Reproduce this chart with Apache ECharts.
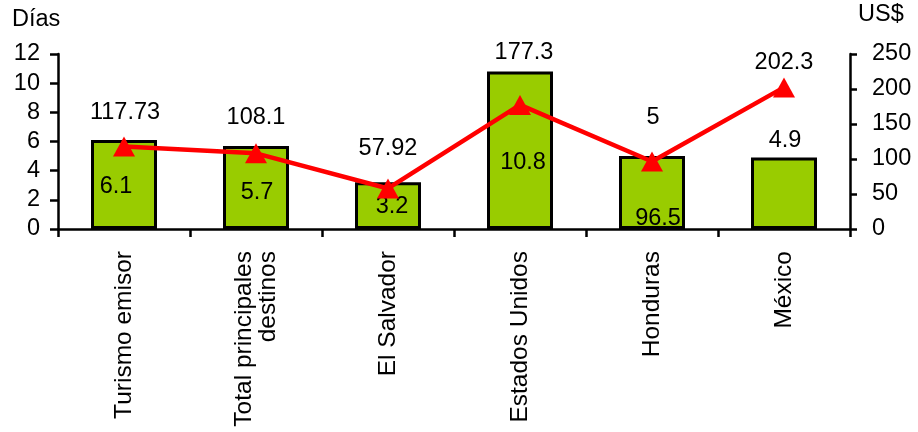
<!DOCTYPE html>
<html><head><meta charset="utf-8">
<script src="https://cdn.jsdelivr.net/npm/echarts@6/dist/echarts.min.js"></script>
<style>html,body{margin:0;padding:0;background:#fff}#c{width:918px;height:432px}</style>
</head><body><div id="c"></div>
<script>
const categories = ['Turismo emisor', 'Total principales\ndestinos', 'El Salvador', 'Estados Unidos', 'Honduras', 'México'];
const diasValues = [6.1, 5.7, 3.2, 10.8, 5, 4.9];
const gastoValues = [117.73, 108.1, 57.92, 177.3, 96.5, 202.3];
// texts shown in the reference (as printed there)
const barLabelTexts = ['6.1', '5.7', '3.2', '10.8', '96.5', '4.9'];
const lineLabelTexts = ['117.73', '108.1', '57.92', '177.3', '5', '202.3'];
const leftTicks = [0, 2, 4, 6, 8, 10, 12];
const rightTicks = [0, 50, 100, 150, 200, 250];

// label offsets (style only)
const barLabelOffsets = [[-8, 2], [1, 5], [4, 1], [3, 12], [6, 26], [1, -53]];
const lineLabelOffsets = [[1, -34], [0, -36], [0, -40], [4, -52], [1, -44], [0, -25]];

const FONT = 'Liberation Sans, Arial, sans-serif';
const FS = 23.5;

const chart = echarts.init(document.getElementById('c'));
chart.setOption({
  animation: false,
  grid: { left: 58, right: 68, top: 54, bottom: 203, containLabel: false, outerBoundsMode: 'none' },
  xAxis: {
    type: 'category', data: categories, boundaryGap: true,
    axisLine: { lineStyle: { color: '#000', width: 2.5 } },
    axisTick: { show: true, length: 8, lineStyle: { color: '#000', width: 2.5 }, alignWithLabel: false },
    axisLabel: { rotate: 90, fontFamily: FONT, fontSize: 24.5, color: '#000', margin: 22, align: 'right', verticalAlign: 'middle', lineHeight: 24 },
    splitLine: { show: false }
  },
  yAxis: [{
    type: 'value', min: leftTicks[0], max: leftTicks[leftTicks.length - 1], interval: 2,
    name: 'Días', nameLocation: 'end', nameGap: 22,
    nameTextStyle: { fontFamily: FONT, fontSize: FS, color: '#000', align: 'left', padding: [0, 0, 0, -46] },
    axisLine: { show: true, lineStyle: { color: '#000', width: 2.5 } },
    axisTick: { show: true, length: 8, lineStyle: { color: '#000', width: 2.5 } },
    axisLabel: { fontFamily: FONT, fontSize: FS, color: '#000', margin: 18 },
    splitLine: { show: false }
  }, {
    type: 'value', min: rightTicks[0], max: rightTicks[rightTicks.length - 1], interval: 50,
    name: 'US$', nameLocation: 'end', nameGap: 27,
    nameTextStyle: { fontFamily: FONT, fontSize: FS, color: '#000', align: 'left', padding: [0, 0, 0, 8] },
    position: 'right',
    axisLine: { show: true, lineStyle: { color: '#000', width: 2.5 } },
    axisTick: { show: true, length: 7, inside: false, lineStyle: { color: '#000', width: 2.5 } },
    axisLabel: { fontFamily: FONT, fontSize: FS, color: '#000', margin: 22 },
    splitLine: { show: false }
  }],
  series: [{
    type: 'bar', yAxisIndex: 0, barWidth: '50%',
    data: diasValues.map((v, i) => ({
      value: v,
      label: { show: true, position: 'inside', offset: barLabelOffsets[i], formatter: barLabelTexts[i] }
    })),
    itemStyle: { color: '#99CC00', borderColor: '#000', borderWidth: 3 },
    label: { fontFamily: FONT, fontSize: FS, color: '#000' },
    z: 2
  }, {
    type: 'line', yAxisIndex: 1,
    data: gastoValues.map((v, i) => ({
      value: v,
      label: { show: true, position: 'inside', offset: lineLabelOffsets[i], formatter: lineLabelTexts[i] }
    })),
    lineStyle: { color: '#FF0000', width: 4.5 },
    itemStyle: { color: '#FF0000' },
    symbol: 'triangle', symbolSize: [22, 20],
    label: { fontFamily: FONT, fontSize: FS, color: '#000' },
    z: 3
  }]
});
</script></body></html>
